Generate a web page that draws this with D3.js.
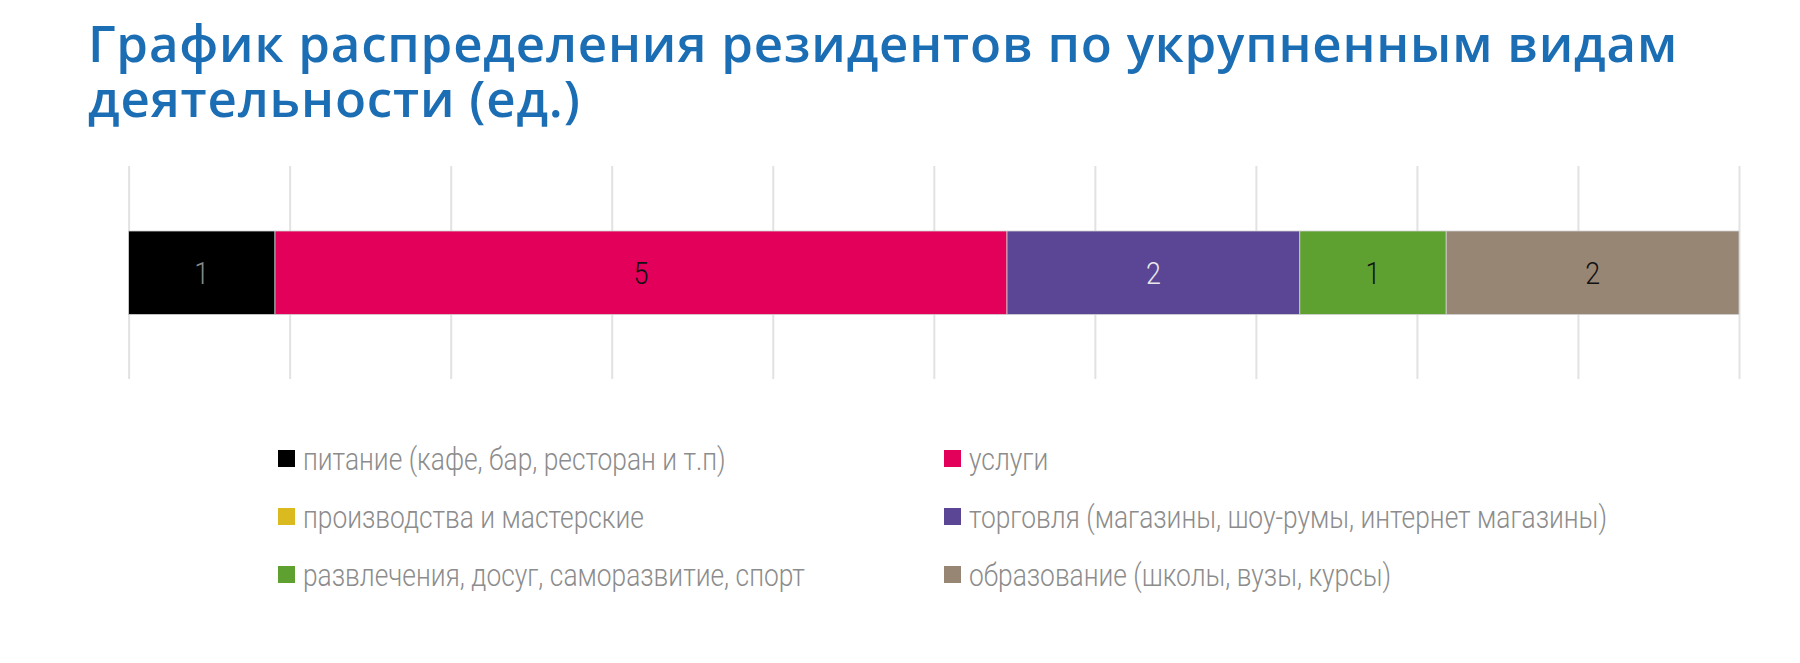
<!DOCTYPE html>
<html lang="ru">
<head>
<meta charset="utf-8">
<script src="https://cdn.jsdelivr.net/npm/d3@7"></script>
<style>
  html, body { margin: 0; padding: 0; background: #fff; }
  svg { display: block; }
</style>
</head>
<body>
<svg id="chart" width="1800" height="663"></svg>
<script>
// данные
const titleLines = ["График распределения резидентов по укрупненным видам", "деятельности (ед.)"];
const categories = [
  "питание (кафе, бар, ресторан и т.п)",
  "услуги",
  "производства и мастерские",
  "торговля (магазины, шоу-румы, интернет магазины)",
  "развлечения, досуг, саморазвитие, спорт",
  "образование (школы, вузы, курсы)"
];
const values = [1, 5, 0, 2, 1, 2];
const colors = ["#000000", "#e2005a", "#dbba1f", "#5b4696", "#5ea130", "#978674"];
const labelColors = ["#8a8a8a", "#111111", "#111111", "#e8e8e8", "#111111", "#111111"];

const titleColor = '#1b6db4';
const gridColor = '#e2e2e2';
const legendTextColor = '#8c8c8c';

const svg = d3.select("#chart");
const width = +svg.attr("width");

const margin = { left: 128.6, right: 61 };
const barTop = 231, barH = 83.5;
const gridTop = 166, gridBottom = 379;

const total = d3.sum(values);
let acc = 0;
const segs = categories.map((c, i) => {
  const s = { cat: c, value: values[i], color: colors[i], label: labelColors[i], x0: acc / total };
  acc += values[i];
  s.x1 = acc / total;
  return s;
});

const x = d3.scaleLinear()
  .domain([0, 1])
  .range([margin.left, width - margin.right]);

// заголовок (один text, строки через tspan)
svg.append("text")
  .attr("x", 88)
  .attr("y", 62)
  .style("font-family", "'Open Sans', sans-serif")
  .style("font-weight", "600")
  .style("font-size", "51px")
  .style("letter-spacing", "0.8px")
  .style("fill", titleColor)
  .selectAll("tspan")
  .data(titleLines)
  .enter()
  .append("tspan")
  .attr("x", 88)
  .attr("dy", (d, i) => i === 0 ? 0 : 55)
  .text(d => d);

// сетка
svg.append("g")
  .attr("transform", `translate(0,${gridBottom})`)
  .call(d3.axisBottom(x)
    .tickValues(d3.range(0, 11).map(d => d / 10))
    .tickSize(-(gridBottom - gridTop))
    .tickFormat(""))
  .call(g => g.select(".domain").remove())
  .selectAll("line")
  .attr("stroke", gridColor)
  .attr("stroke-width", 2);

// столбец
const bars = svg.append("g");
bars.selectAll("rect")
  .data(segs.filter(d => d.value > 0))
  .enter()
  .append("rect")
  .attr("x", d => x(d.x0))
  .attr("y", barTop)
  .attr("width", d => x(d.x1) - x(d.x0))
  .attr("height", barH)
  .attr("fill", d => d.color)
  .attr("stroke", "#d0d0d0")
  .attr("stroke-width", 0.8);

bars.selectAll("text")
  .data(segs.filter(d => d.value > 0))
  .enter()
  .append("text")
  .attr("transform", d => `translate(${(x(d.x0) + x(d.x1)) / 2},${barTop + barH / 2 + 11}) scale(0.84,1)`)
  .attr("text-anchor", "middle")
  .style("font-family", "Roboto, sans-serif")
  .style("font-weight", "300")
  .style("font-size", "32px")
  .style("fill", d => d.label)
  .text(d => d.value);

// легенда
const legendX = [278, 944];
const legendY = [459, 517, 575];
const legend = svg.append("g")
  .selectAll("g")
  .data(segs)
  .enter()
  .append("g")
  .attr("transform", (d, i) => `translate(${legendX[i % 2]},${legendY[Math.floor(i / 2)]})`);

legend.append("rect")
  .attr("x", 0)
  .attr("y", -9)
  .attr("width", 17)
  .attr("height", 17)
  .attr("fill", d => d.color);

legend.append("text")
  .attr("transform", "translate(25,11) scale(0.85,1)")
  .style("font-family", "Roboto, sans-serif")
  .style("font-weight", "300")
  .style("font-size", "31px")
  .style("fill", legendTextColor)
  .text(d => d.cat);
</script>
</body>
</html>
